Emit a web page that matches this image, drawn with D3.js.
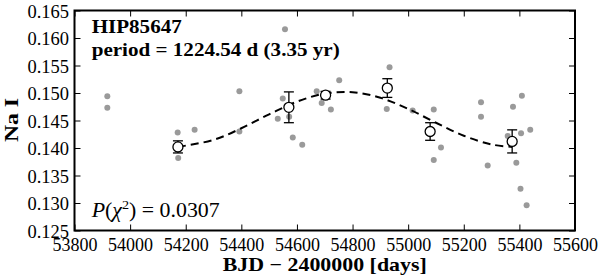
<!DOCTYPE html>
<html><head><meta charset="utf-8">
<script src="https://cdn.jsdelivr.net/npm/d3@7"></script>
<style>body{margin:0;background:#fff} svg{display:block} text{font-family:"Liberation Serif","DejaVu Serif","Noto Serif",serif}</style>
</head><body><svg id="c" width="600" height="279"></svg>
<script>
// Individual observations (gray dots)
const obsDays = [53918, 53918, 54171, 54173, 54232, 54393, 54393, 54531, 54549, 54557,
                 54572, 54585, 54619, 54671, 54689, 54722, 54752, 54923, 54933, 55016,
                 55092, 55118, 55092, 55262, 55262, 55286, 55409, 55377, 55358, 55406,
                 55439, 55389, 55404, 55426];
const obsNaI  = [0.1494, 0.1473, 0.1428, 0.1382, 0.1433, 0.1503, 0.1430, 0.1453, 0.1490, 0.1616,
                 0.1457, 0.1419, 0.1406, 0.1503, 0.1482, 0.1470, 0.1523, 0.1471, 0.1547, 0.1468,
                 0.1470, 0.1401, 0.1378, 0.1483, 0.1457, 0.1368, 0.1495, 0.1475, 0.1422, 0.1427,
                 0.1433, 0.1373, 0.1326, 0.1296];
// Binned averages (open circles with error bars)
const binDays = [54172, 54571, 54703, 54925, 55079, 55374];
const binNaI  = [0.1402, 0.1474, 0.1496, 0.1509, 0.1430, 0.1412];
const binErr  = [0.0011, 0.0028, 0.0007, 0.0017, 0.0016, 0.0021];
// Fitted curve samples
const fitDays = [54172, 54300, 54400, 54500, 54600, 54700, 54800, 54900, 55000, 55100, 55200, 55300, 55374];
const fitNaI  = [0.14021, 0.14147, 0.14359, 0.14612, 0.14842, 0.14988, 0.15014, 0.14913, 0.14711, 0.14459, 0.14223, 0.14064, 0.14020];
// Ticks
const xTickValues = [53800, 54000, 54200, 54400, 54600, 54800, 55000, 55200, 55400, 55600];
const xTickLabels = ["53800", "54000", "54200", "54400", "54600", "54800", "55000", "55200", "55400", "55600"];
const yTickValues = [0.125, 0.130, 0.135, 0.140, 0.145, 0.150, 0.155, 0.160, 0.165];
const yTickLabels = ["0.125", "0.130", "0.135", "0.140", "0.145", "0.150", "0.155", "0.160", "0.165"];

const FONT = '"Liberation Serif","DejaVu Serif","Noto Serif",serif';
const L = 74.5, R = 575, T = 10.5, B = 230.5;
const svg = d3.select("#c");
const x = d3.scaleLinear().domain([53800, 55600]).range([L, R]);
const y = d3.scaleLinear().domain([0.125, 0.165]).range([B, T]);

// gray points
svg.append("g").selectAll("circle").data(obsDays.map((d, i) => [d, obsNaI[i]])).join("circle")
  .attr("cx", d => x(d[0])).attr("cy", d => y(d[1])).attr("r", 3).attr("fill", "#9a9a9a");

// dashed fit
const line = d3.line().x(d => x(d[0])).y(d => y(d[1])).curve(d3.curveCatmullRom);
svg.append("path").datum(fitDays.map((d, i) => [d, fitNaI[i]]))
  .attr("d", line).attr("fill", "none").attr("stroke", "#000").attr("stroke-width", 2)
  .attr("stroke-dasharray", "8,5");

// error bars + open circles
const bins = binDays.map((d, i) => ({d, v: binNaI[i], e: binErr[i]}));
const eb = svg.append("g").attr("stroke", "#000").attr("stroke-width", 1.3);
bins.forEach(b => {
  eb.append("line").attr("x1", x(b.d)).attr("x2", x(b.d)).attr("y1", y(b.v - b.e)).attr("y2", y(b.v + b.e));
  [b.v - b.e, b.v + b.e].forEach(v => eb.append("line").attr("x1", x(b.d) - 5).attr("x2", x(b.d) + 5).attr("y1", y(v)).attr("y2", y(v)));
});
svg.append("g").selectAll("circle").data(bins).join("circle")
  .attr("cx", b => x(b.d)).attr("cy", b => y(b.v)).attr("r", 5)
  .attr("fill", "#fff").attr("stroke", "#000").attr("stroke-width", 1.3);

// axes
const styleAxis = g => { g.attr("font-family", null); g.select(".domain").remove(); g.selectAll(".tick line").attr("stroke", "#000").attr("stroke-width", 1); };
svg.append("g").attr("transform", `translate(0,${B})`)
  .call(d3.axisBottom(x).tickValues(xTickValues).tickFormat((d, i) => xTickLabels[i]).tickSize(-6))
  .call(styleAxis)
  .call(g => g.selectAll("text").attr("y", 20.5).attr("dy", null).attr("fill", "#000")
     .attr("font-family", FONT).attr("font-size", 18).attr("textLength", 45).attr("lengthAdjust", "spacingAndGlyphs"));
svg.append("g").attr("transform", `translate(0,${T})`)
  .call(d3.axisTop(x).tickValues(xTickValues).tickFormat("").tickSize(-6)).call(styleAxis);
svg.append("g").attr("transform", `translate(${L},0)`)
  .call(d3.axisLeft(y).tickValues(yTickValues).tickFormat((d, i) => yTickLabels[i]).tickSize(-6))
  .call(styleAxis)
  .call(g => g.selectAll("text").attr("x", -5.5).attr("dy", "0.38em").attr("fill", "#000")
     .attr("font-family", FONT).attr("font-size", 18).attr("textLength", 41.6).attr("lengthAdjust", "spacingAndGlyphs"));
svg.append("g").attr("transform", `translate(${R},0)`)
  .call(d3.axisRight(y).tickValues(yTickValues).tickFormat("").tickSize(-6)).call(styleAxis);

// frame
svg.append("rect").attr("x", L).attr("y", T).attr("width", R - L).attr("height", B - T)
  .attr("fill", "none").attr("stroke", "#000").attr("stroke-width", 2);

// texts
const txt = (s, xx, yy, opts) => svg.append("text").attr("x", xx).attr("y", yy).text(s)
  .attr("font-family", FONT).attr("font-size", opts.size || 19)
  .attr("font-weight", opts.bold ? "bold" : "normal")
  .attr("text-anchor", opts.anchor || "start")
  .attr("textLength", opts.len).attr("lengthAdjust", "spacingAndGlyphs");
txt("HIP85647", 91.7, 33, {bold: true, len: 90});
txt("period = 1224.54 d (3.35 yr)", 91.7, 56, {bold: true, len: 248});
txt("BJD − 2400000 [days]", (L + R) / 2, 271, {bold: true, len: 204, anchor: "middle"});
svg.append("text").attr("transform", "translate(18.3,120) rotate(-90)").attr("text-anchor", "middle")
  .attr("font-family", FONT).attr("font-size", 19).attr("font-weight", "bold")
  .attr("textLength", 44).attr("lengthAdjust", "spacingAndGlyphs").text("Na I");

const p = svg.append("text").attr("x", 91.7).attr("y", 216.7)
  .attr("font-family", FONT).attr("font-size", 20)
  .attr("textLength", 128).attr("lengthAdjust", "spacingAndGlyphs");
p.append("tspan").attr("font-style", "italic").text("P");
p.append("tspan").text("(");
p.append("tspan").attr("font-style", "italic").text("χ");
p.append("tspan").attr("dy", -8).attr("font-size", 13).text("2");
p.append("tspan").attr("dy", 8).text(") = 0.0307");
</script></body></html>
